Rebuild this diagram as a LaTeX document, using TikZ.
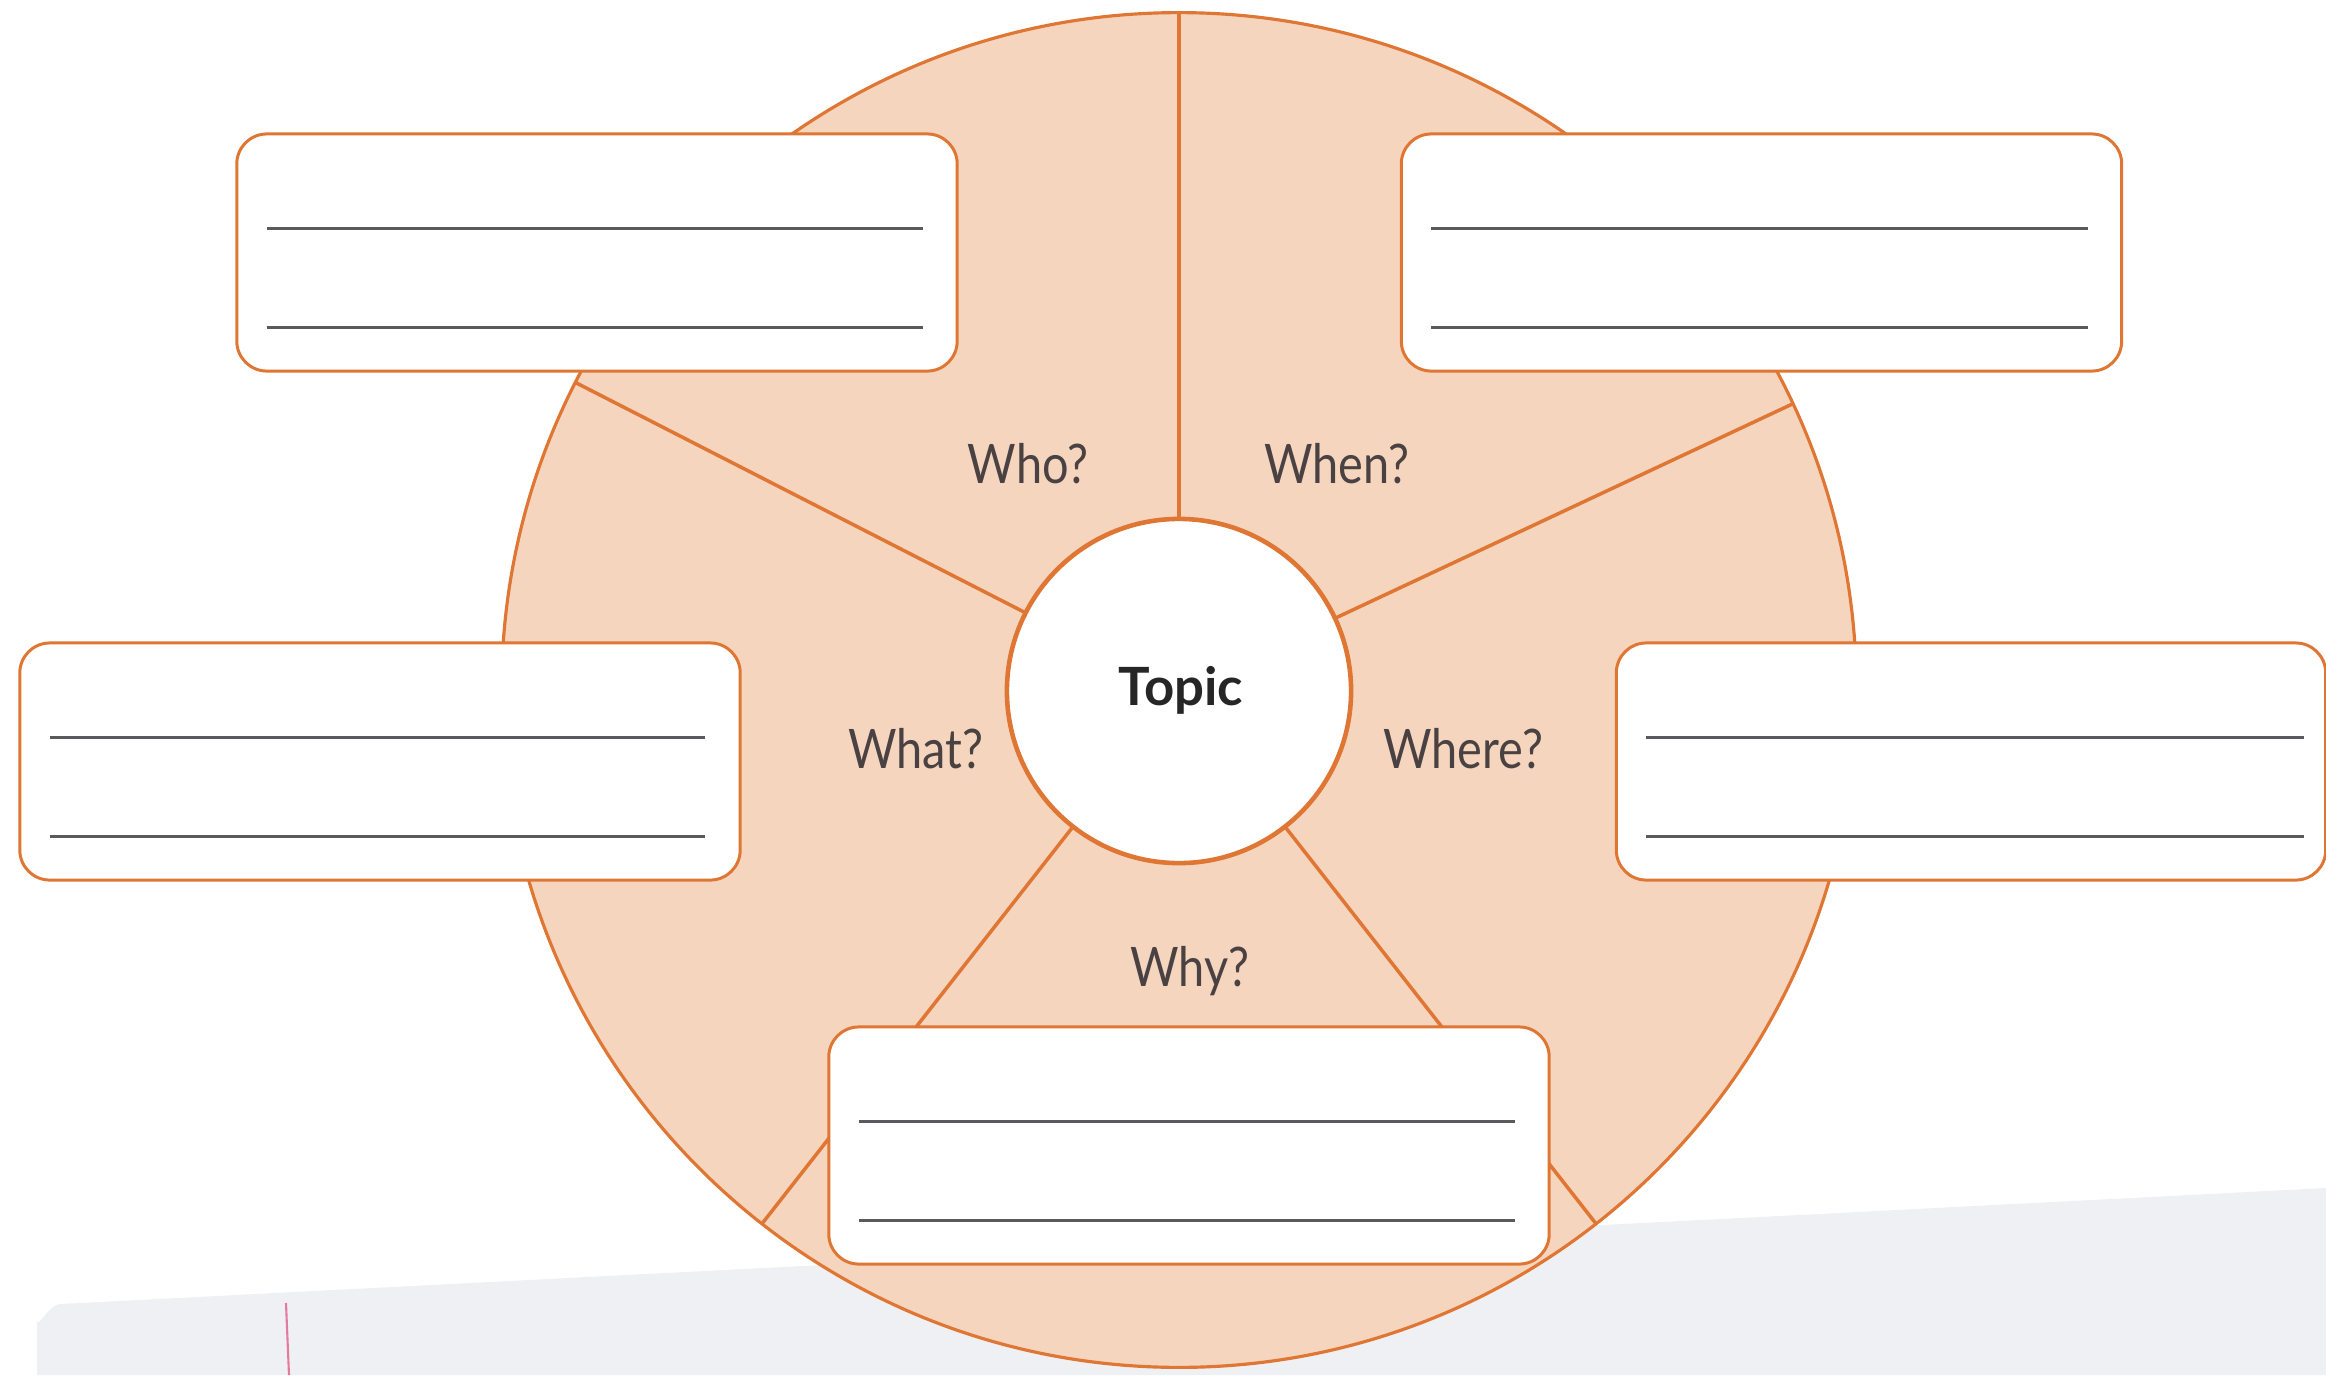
\documentclass[tikz,border=0pt]{standalone}
\usepackage{fontspec}
\setmainfont{Lato}
\newfontfamily\labelfont{Lato}[FakeStretch=0.86]
\usetikzlibrary{calc}
\definecolor{peach}{HTML}{F6D5BF}
\definecolor{rim}{HTML}{DF7633}
\definecolor{inkline}{HTML}{5A5A5C}
\definecolor{labeltext}{HTML}{4A4242}
\definecolor{paper}{HTML}{EFF0F4}
\definecolor{pinkline}{HTML}{E47A9C}
\begin{document}
\begin{tikzpicture}[x=0.01cm,y=-0.01cm,
  answerbox/.style={draw=rim,line width=0.85pt,fill=white,rounded corners=0.3cm,
    minimum width=7.2cm,minimum height=2.37cm,inner sep=0pt,outer sep=0pt},
  writeline/.style={draw=inkline,line width=0.85pt},
  spoke/.style={draw=rim,line width=1pt},
  qlabel/.style={text=labeltext,font=\labelfont\fontsize{15.5}{18}\selectfont,anchor=base,inner sep=0pt}
]
\useasboundingbox (0,0) rectangle (2326,1375);
% paper sheet in the background
\fill[paper] (37,1375) -- (37,1320) to[out=-90,in=180] (60,1304) -- (2326,1188) -- (2326,1375) -- cycle;
\draw[pinkline,line width=0.6pt] (286,1303) -- (289,1375);
% wheel
\node[circle,draw=rim,line width=0.9pt,fill=peach,minimum size=13.54cm,inner sep=0pt,outer sep=0pt] (wheel) at (1179,690) {};
\node[circle,minimum size=3.44cm,inner sep=0pt,outer sep=0pt] (hub) at (1179,691) {};
\foreach \a in {90,153.5,232.8,308.8,25.3}
  \draw[spoke] (wheel.\a) -- (hub.\a);
\node[circle,draw=rim,line width=1.3pt,fill=white,minimum size=3.44cm,inner sep=0pt,outer sep=0pt] (topic) at (1179,691) {};
\node[anchor=base,inner sep=0pt,text=black!85,font=\fontsize{15}{18}\bfseries\selectfont] (topiclabel) at (1181,705) {Topic};
% answer boxes
\node[answerbox] (whobox) at (597,252.5) {};
\node[answerbox] (whenbox) at (1761.5,252.5) {};
\node[answerbox] (whatbox) at (380,761.5) {};
\node[answerbox,minimum width=7.09cm] (wherebox) at (1971,761.5) {};
\node[answerbox] (whybox) at (1189,1145.5) {};
\foreach \b/\r in {whobox/34,whenbox/34,whatbox/35,wherebox/22,whybox/34}{
  \draw[writeline] ($(\b.north west)+(30,95)$) -- ($(\b.north east)+(-\r,95)$);
  \draw[writeline] ($(\b.north west)+(30,194)$) -- ($(\b.north east)+(-\r,194)$);
}
% labels
\node[qlabel] (who) at (1028,483) {Who?};
\node[qlabel] (when) at (1337,483) {When?};
\node[qlabel] (what) at (916,768) {What?};
\node[qlabel] (where) at (1463,768) {Where?};
\node[qlabel] (why) at (1190,986) {Why?};
\end{tikzpicture}
\end{document}
